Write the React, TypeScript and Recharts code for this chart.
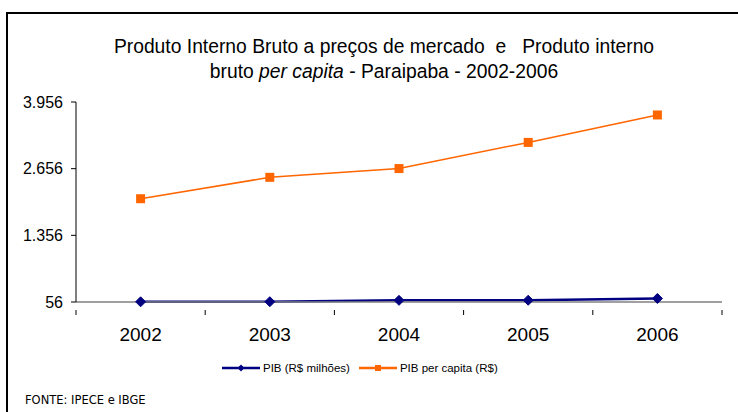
import { LineChart, Line, XAxis, YAxis } from "recharts";

const years = ["2002", "2003", "2004", "2005", "2006"];
const pibMilhoes = [60, 62, 88, 90, 125];
const pibPerCapita = [2070, 2487, 2658, 3168, 3703];
const yTicks = [56, 1356, 2656, 3956];

const data = years.map((year, i) => ({
  year,
  pib: pibMilhoes[i],
  perCapita: pibPerCapita[i],
}));

const BLUE = "#000080";
const ORANGE = "#FF6600";
const FONT = "'Liberation Sans', Arial, sans-serif";

const fmt = (v: number) => v.toString().replace(/\B(?=(\d{3})+(?!\d))/g, ".");

function Diamond(props: any) {
  const { cx, cy } = props;
  if (cx == null || cy == null) return null;
  const r = 5;
  return (
    <polygon
      points={`${cx},${cy - r} ${cx + r},${cy} ${cx},${cy + r} ${cx - r},${cy}`}
      fill={BLUE}
      stroke={BLUE}
    />
  );
}

function Square(props: any) {
  const { cx, cy } = props;
  if (cx == null || cy == null) return null;
  const s = 9;
  return <rect x={cx - s / 2} y={cy - s / 2} width={s} height={s} fill={ORANGE} />;
}

// x labels at band centres, tick marks at the band edges
function YearTick(props: any) {
  const { x, y, payload, index } = props;
  const half = payload.offset || 0;
  return (
    <g>
      <line x1={x - half} y1={y} x2={x - half} y2={y + 5} stroke="#000" />
      {index === years.length - 1 && (
        <line x1={x + half} y1={y} x2={x + half} y2={y + 5} stroke="#000" />
      )}
      <text
        x={x}
        y={y + 18}
        dy="0.71em"
        textAnchor="middle"
        fontSize={19}
        fontFamily={FONT}
        fill="#000"
      >
        {payload.value}
      </text>
    </g>
  );
}

export default function App() {
  return (
    <div
      style={{
        position: "absolute",
        left: 0,
        top: 0,
        width: 738,
        height: 412,
        overflow: "hidden",
        background: "#fff",
        fontFamily: FONT,
      }}
    >
      <div
        style={{
          position: "absolute",
          left: 6,
          top: 12,
          width: 760,
          height: 430,
          border: "2px solid #000",
        }}
      />
      <div
        style={{
          position: "absolute",
          left: 0,
          top: 34,
          width: 768,
          textAlign: "center",
          fontSize: 19.3,
          lineHeight: "25px",
          color: "#000",
          whiteSpace: "pre",
        }}
      >
        {"Produto Interno Bruto a preços de mercado  e   Produto interno"}
        <br />
        bruto <i>per capita</i> - Paraipaba - 2002-2006
      </div>

      <div style={{ position: "absolute", left: 0, top: 0 }}>
        <LineChart
          width={738}
          height={412}
          data={data}
          margin={{ top: 102, right: 16, bottom: 80, left: 16 }}
        >
          <XAxis
            dataKey="year"
            scale="band"
            axisLine={{ stroke: "#808080", strokeWidth: 1.5 }}
            tickLine={false}
            tick={<YearTick />}
            interval={0}
          />
          <YAxis
            domain={[56, 3956]}
            ticks={yTicks}
            width={60}
            axisLine={{ stroke: "#000" }}
            tickLine={{ stroke: "#000" }}
            tickSize={5}
            tickMargin={8}
            tickFormatter={fmt}
            tick={{ fontSize: 16, fontFamily: FONT, fill: "#000" }}
            interval={0}
          />
          <Line
            dataKey="pib"
            stroke={BLUE}
            strokeWidth={2.5}
            dot={<Diamond />}
            isAnimationActive={false}
          />
          <Line
            dataKey="perCapita"
            stroke={ORANGE}
            strokeWidth={1.5}
            dot={<Square />}
            isAnimationActive={false}
          />
        </LineChart>
      </div>

      <div
        style={{
          position: "absolute",
          left: 222,
          top: 361,
          display: "flex",
          alignItems: "center",
          fontSize: 11.5,
          height: 14,
          color: "#000",
        }}
      >
        <svg width={38} height={10}>
          <line x1={0} y1={5} x2={38} y2={5} stroke={BLUE} strokeWidth={2.5} />
          <polygon points="19,1.5 22.5,5 19,8.5 15.5,5" fill={BLUE} />
        </svg>
        <span style={{ marginLeft: 3 }}>PIB (R$ milhões)</span>
        <svg width={38} height={10} style={{ marginLeft: 9 }}>
          <line x1={0} y1={5} x2={38} y2={5} stroke={ORANGE} strokeWidth={2.5} />
          <rect x={16} y={2} width={6} height={6} fill={ORANGE} />
        </svg>
        <span style={{ marginLeft: 3 }}>PIB per capita (R$)</span>
      </div>

      <div
        style={{
          position: "absolute",
          left: 25,
          top: 393,
          fontSize: 11.5,
          fontFamily: "'DejaVu Sans', Verdana, sans-serif",
          color: "#000",
        }}
      >
        FONTE: IPECE e IBGE
      </div>
    </div>
  );
}
